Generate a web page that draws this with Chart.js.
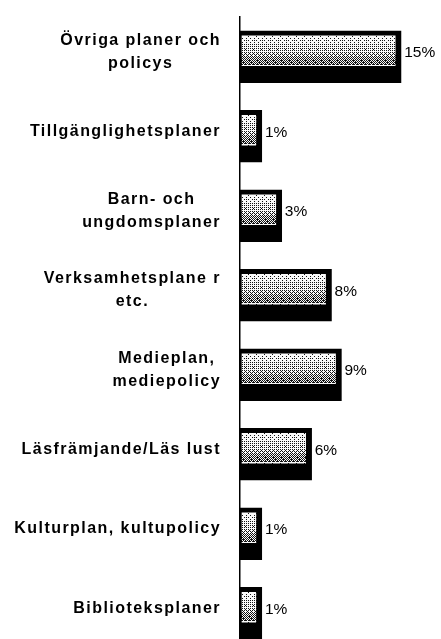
<!DOCTYPE html>
<html>
<head>
<meta charset="utf-8">
<script src="https://cdn.jsdelivr.net/npm/chart.js@4/dist/chart.umd.min.js"></script>
<style>
  html, body { margin: 0; padding: 0; background: #fff; overflow: hidden; }
  canvas { display: block; }
</style>
</head>
<body>
<canvas id="c" width="441" height="656"></canvas>
<script>
const categories = [
  ['Övriga planer och', 'policys'],
  ['Tillgänglighetsplaner'],
  ['Barn- och', 'ungdomsplaner'],
  ['Verksamhetsplane r', 'etc.'],
  ['Medieplan,', 'mediepolicy'],
  ['Läsfrämjande/Läs lust'],
  ['Kulturplan, kultupolicy'],
  ['Biblioteksplaner']
];
const values = [15, 1, 3, 8, 9, 6, 1, 1];
const valueLabels = ['15%', '1%', '3%', '8%', '9%', '6%', '1%', '1%'];

const AXIS_BASE = -1.2;
const BAR_T = 52;
const BW = { top: 5, right: 6, bottom: 17, left: 2 };

// ordered-dither stipple tile (deterministic), darker toward the bottom
const BAYER = [
  [0,32,8,40,2,34,10,42],[48,16,56,24,50,18,58,26],[12,44,4,36,14,46,6,38],[60,28,52,20,62,30,54,22],
  [3,35,11,43,1,33,9,41],[51,19,59,27,49,17,57,25],[15,47,7,39,13,45,5,37],[63,31,55,23,61,29,53,21]
];
const TILE_H = BAR_T - BW.top - BW.bottom;
function makeTile() {
  const c = document.createElement('canvas');
  c.width = 8; c.height = TILE_H;
  const x = c.getContext('2d');
  const img = x.createImageData(8, TILE_H);
  for (let yy = 0; yy < TILE_H; yy++) {
    const t = yy / (TILE_H - 1);
    let d = 0.14 + 0.52 * Math.pow(t, 1.6);
    if (yy === 0 || yy === TILE_H - 1) d = 0.02;
    for (let xx = 0; xx < 8; xx++) {
      const thr = (BAYER[yy % 8][xx] + 0.5) / 64;
      const v = d > thr ? 20 : 250;
      const k = (yy * 8 + xx) * 4;
      img.data[k] = v; img.data[k + 1] = v; img.data[k + 2] = v; img.data[k + 3] = 255;
    }
  }
  x.putImageData(img, 0, 0);
  return c;
}
const tile = makeTile();

const labelPlugin = {
  id: 'labels',
  afterDraw(chart) {
    const ctx = chart.ctx;
    const y = chart.scales.y;
    ctx.save();
    ctx.fillStyle = '#000';
    ctx.textBaseline = 'middle';
    ctx.textAlign = 'left';
    ctx.font = 'bold 16px "Liberation Sans", Arial, sans-serif';
    try { ctx.letterSpacing = '1.45px'; } catch (e) {}
    const right = 221, lh = 23;
    categories.forEach((lines, i) => {
      const cy = y.getPixelForValue(i) - 5;
      const widths = lines.map(l => ctx.measureText(l).width);
      const maxW = Math.max(...widths);
      const cx = right - maxW / 2;
      lines.forEach((l, j) => {
        const ly = cy + (j - (lines.length - 1) / 2) * lh;
        ctx.fillText(l, cx - widths[j] / 2, ly);
      });
    });
    try { ctx.letterSpacing = '0px'; } catch (e) {}
    ctx.font = '15.5px "Liberation Sans", Arial, sans-serif';
    const meta = chart.getDatasetMeta(0);
    meta.data.forEach((el, i) => {
      ctx.fillText(valueLabels[i], el.x + 3, el.y - 4);
    });
    ctx.restore();
  }
};

function barFill(context) {
  const chart = context.chart;
  const ys = chart.scales && chart.scales.y;
  if (!ys || context.dataIndex === undefined) return '#c0c0c0';
  const cy = ys.getPixelForValue(context.dataIndex);
  if (!isFinite(cy)) return '#c0c0c0';
  const top = Math.round(cy - BAR_T / 2 + BW.top);
  const p = chart.ctx.createPattern(tile, 'repeat');
  p.setTransform(new DOMMatrix().translate(0, top));
  return p;
}

const chart = new Chart(document.getElementById('c'), {
  type: 'bar',
  data: {
    labels: categories,
    datasets: [{
      data: values,
      base: AXIS_BASE,
      backgroundColor: barFill,
      borderColor: '#000',
      borderWidth: BW,
      borderSkipped: false,
      barThickness: BAR_T
    }]
  },
  options: {
    indexAxis: 'y',
    responsive: false,
    animation: false,
    events: [],
    layout: { padding: { top: 17, bottom: 3, left: 0, right: 3 } },
    plugins: { legend: { display: false }, tooltip: { enabled: false }, title: { display: false } },
    scales: {
      x: { display: false, min: AXIS_BASE, max: 18.7 },
      y: {
        type: 'category',
        afterFit: s => { s.width = 240; },
        ticks: { display: false },
        grid: { display: false },
        border: { display: true, color: '#000', width: 1.5 }
      }
    }
  },
  plugins: [labelPlugin]
});
chart.update();
</script>
</body>
</html>
